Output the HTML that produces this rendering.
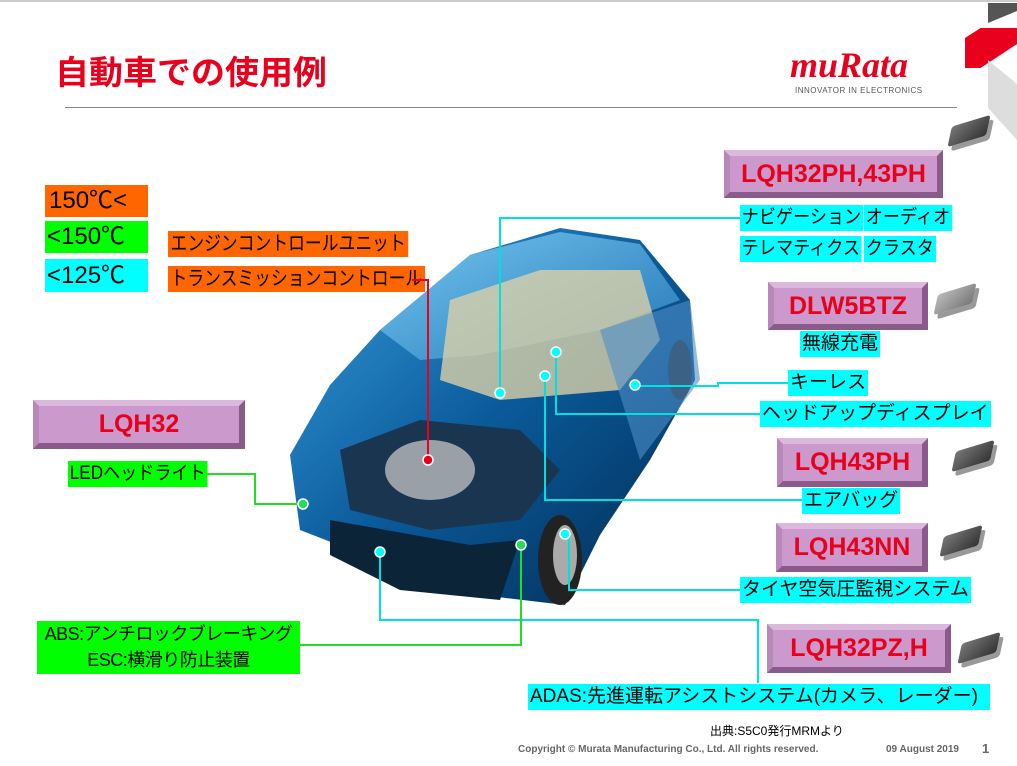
<!DOCTYPE html>
<html><head><meta charset="utf-8"><style>
body{margin:0;width:1017px;height:766px;background:#fff;position:relative;overflow:hidden;font-family:"Liberation Sans","Noto Sans CJK JP",sans-serif}
.a{position:absolute;white-space:nowrap}
.c{background:#00ffff;font-size:19px;line-height:26px;padding:0 2px;color:#000}
.g{background:#00ff00;font-size:19px;line-height:26px;color:#000}
.o{background:#ff6600;font-size:20px;line-height:26px;padding:0 3px;color:#000;transform:scaleX(.84);transform-origin:left}
.n{transform:scaleX(.9);transform-origin:left}
.b{position:absolute;background:#cc99cc;color:#e8001c;font-weight:bold;font-size:25px;text-align:center;box-sizing:border-box;border-style:solid;border-width:6px;border-color:#ddb8dd #8a5a8a #8a5a8a #b888b8}
.chip{position:absolute;width:34px;height:22px;background:linear-gradient(135deg,#777,#333);transform:skewX(-30deg) rotate(-20deg);border-radius:3px;box-shadow:4px 6px 0 #999}
</style></head><body>
<div class="a" style="left:0;top:0;width:1017px;height:2px;background:#ccc"></div>
<div class="a" style="left:55px;top:46px;font-size:33px;font-weight:bold;color:#e8001c;transform:scaleX(1.03);transform-origin:left">自動車での使用例</div>
<div class="a" style="left:790px;top:44px;font-size:36px;font-weight:bold;font-style:italic;color:#e8001c;font-family:'Liberation Serif',serif">muRata</div>
<div class="a" style="left:795px;top:86px;font-size:8px;color:#555;letter-spacing:0.5px">INNOVATOR IN ELECTRONICS</div>
<div class="a" style="left:65px;top:107px;width:892px;height:1px;background:#888"></div>
<div class="a" style="left:988px;top:3px;width:29px;height:20px;background:#555;clip-path:polygon(0 0,100% 0,100% 40%,0 100%)"></div>
<div class="a" style="left:965px;top:28px;width:52px;height:40px;background:#e8001c;clip-path:polygon(30% 0,100% 0,100% 40%,30% 100%,0 100%,0 25%)"></div>
<div class="a" style="left:988px;top:60px;width:29px;height:80px;background:#ddd;clip-path:polygon(0 0,100% 30%,100% 100%,0 60%)"></div>

<div class="a" style="left:45px;top:185px;width:103px;height:32px;background:#ff6600;font-size:24px;line-height:32px;padding-left:4px;box-sizing:border-box">150℃&lt;</div>
<div class="a" style="left:45px;top:221px;width:103px;height:32px;background:#00ff00;font-size:24px;line-height:32px;padding-left:2px;box-sizing:border-box">&lt;150℃</div>
<div class="a" style="left:45px;top:259px;width:103px;height:33px;background:#00ffff;font-size:24px;line-height:33px;padding-left:2px;box-sizing:border-box">&lt;125℃</div>
<div class="a o" style="left:168px;top:231px">エンジンコントロールユニット</div>
<div class="a o" style="left:168px;top:266px">トランスミッションコントロール</div>

<svg class="a" style="left:0;top:0" width="1017" height="766">
<defs><linearGradient id="bd" x1="0" y1="0" x2="1" y2="1"><stop offset="0" stop-color="#3aa0e0"/><stop offset="0.5" stop-color="#0a5a9a"/><stop offset="1" stop-color="#022a50"/></linearGradient>
<linearGradient id="gl" x1="0" y1="0" x2="1" y2="1"><stop offset="0" stop-color="#7fd0f5"/><stop offset="1" stop-color="#2a7fbf"/></linearGradient></defs>
<polygon points="290,455 330,385 380,330 470,255 560,228 640,240 690,300 695,380 650,460 600,535 565,605 480,595 390,565 300,530" fill="url(#bd)"/>
<polygon points="380,330 470,255 560,232 640,244 680,300 600,330 480,355 420,360" fill="url(#gl)" opacity="0.85"/>
<polygon points="450,300 540,270 640,270 660,340 620,390 500,400 440,380" fill="#d8cfa8" opacity="0.8"/>
<polygon points="340,450 420,420 520,430 560,470 520,520 430,530 350,510" fill="#1a3550"/>
<ellipse cx="430" cy="470" rx="45" ry="30" fill="#9aa0a8"/>
<polygon points="330,520 470,545 520,540 500,600 400,590 330,555" fill="#0c2438"/>
<ellipse cx="560" cy="560" rx="22" ry="45" fill="#222"/><ellipse cx="565" cy="555" rx="12" ry="30" fill="#aaa"/>
<ellipse cx="680" cy="370" rx="12" ry="30" fill="#222"/>
<polygon points="600,330 690,300 700,380 640,460" fill="#4c8ec8" opacity="0.6"/>
<g fill="none" stroke-width="2">
<polyline points="412,280 428,280 428,460" stroke="#e8001c"/>
<polyline points="740,218 500,218 500,393" stroke="#00e0e0"/>
<polyline points="788,383 718,383 718,386 635,386" stroke="#00e0e0"/>
<polyline points="760,414 556,414 556,352" stroke="#00e0e0"/>
<polyline points="802,500 545,500 545,376" stroke="#00e0e0"/>
<polyline points="742,590 569,590 569,534" stroke="#00e0e0"/>
<polyline points="758,683 758,620 380,620 380,552" stroke="#00e0e0"/>
<polyline points="206,474 255,474 255,504 303,504" stroke="#22dd22"/>
<polyline points="300,645 521,645 521,545" stroke="#22dd22"/>
</g>
<g stroke="#fff" stroke-width="1.5">
<circle cx="428" cy="460" r="5" fill="#e8001c"/>
<circle cx="500" cy="393" r="5" fill="#00ffff"/><circle cx="635" cy="385" r="5" fill="#00ffff"/>
<circle cx="556" cy="352" r="5" fill="#00ffff"/><circle cx="545" cy="376" r="5" fill="#00ffff"/>
<circle cx="565" cy="534" r="5" fill="#00ffff"/><circle cx="380" cy="552" r="5" fill="#00ffff"/>
<circle cx="303" cy="504" r="5" fill="#22dd55"/><circle cx="521" cy="545" r="5" fill="#22dd55"/>
</g>
</svg>

<div class="b" style="left:724px;top:150px;width:219px;height:48px;line-height:36px">LQH32PH,43PH</div>
<div class="a c n" style="left:740px;top:205px">ナビゲーション</div>
<div class="a c n" style="left:864px;top:205px">オーディオ</div>
<div class="a c n" style="left:740px;top:236px">テレマティクス</div>
<div class="a c n" style="left:864px;top:236px">クラスタ</div>
<div class="b" style="left:768px;top:282px;width:160px;height:48px;line-height:36px">DLW5BTZ</div>
<div class="a c" style="left:800px;top:331px">無線充電</div>
<div class="a c" style="left:788px;top:370px">キーレス</div>
<div class="a c" style="left:760px;top:401px">ヘッドアップディスプレイ</div>
<div class="b" style="left:777px;top:438px;width:151px;height:49px;line-height:37px">LQH43PH</div>
<div class="a c" style="left:802px;top:488px">エアバッグ</div>
<div class="b" style="left:776px;top:523px;width:152px;height:49px;line-height:37px">LQH43NN</div>
<div class="a c" style="left:740px;top:577px">タイヤ空気圧監視システム</div>
<div class="b" style="left:767px;top:624px;width:184px;height:49px;line-height:37px">LQH32PZ,H</div>
<div class="a c" style="left:528px;top:684px;width:458px">ADAS:先進運転アシストシステム(カメラ、レーダー)</div>
<div class="b" style="left:33px;top:400px;width:212px;height:49px;line-height:37px">LQH32</div>
<div class="a g n" style="left:68px;top:461px;padding:0 2px">LEDヘッドライト</div>
<div class="a g" style="left:37px;top:621px;width:263px;height:53px;text-align:center;line-height:26px;font-size:18px;letter-spacing:-0.5px">ABS:アンチロックブレーキング<br>ESC:横滑り防止装置</div>

<div class="chip" style="left:952px;top:120px"></div>
<div class="chip" style="left:938px;top:288px;background:linear-gradient(135deg,#bbb,#777)"></div>
<div class="chip" style="left:956px;top:445px"></div>
<div class="chip" style="left:944px;top:530px"></div>
<div class="chip" style="left:962px;top:637px"></div>

<div class="a" style="left:710px;top:722px;font-size:12px">出典:S5C0発行MRMより</div>
<div class="a" style="left:518px;top:744px;font-size:10px;color:#666;font-weight:bold">Copyright © Murata Manufacturing Co., Ltd. All rights reserved.</div>
<div class="a" style="left:886px;top:744px;font-size:10px;color:#666;font-weight:bold">09 August 2019</div>
<div class="a" style="left:982px;top:741px;font-size:13px;color:#666;font-weight:bold">1</div>
</body></html>
